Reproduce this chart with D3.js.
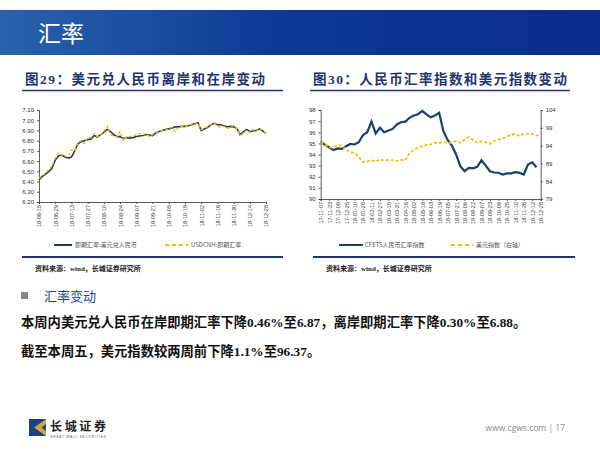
<!DOCTYPE html>
<html>
<head>
<meta charset="utf-8">
<script src="https://cdn.jsdelivr.net/npm/d3@7"></script>
<style>
  body { margin: 0; background: #fff; }
  svg { display: block; }
  .axis text { font-family: "Liberation Sans", Arial, sans-serif; fill: #333; }
  .axis path, .axis line { stroke: #333; stroke-width: 0.8; }
</style>
</head>
<body>
<div id="slide"></div>
<script>
// data

// fig 29: 18-06-15 .. 18-12-28, one value every 2 trading days
var leftTicks = ["18-06-15", "18-06-29", "18-07-13", "18-07-27", "18-08-10", "18-08-24", "18-09-07",
  "18-09-21", "18-10-05", "18-10-19", "18-11-02", "18-11-16", "18-11-30", "18-12-14", "18-12-28"];
var onshore = [6.415, 6.45, 6.47, 6.50, 6.53, 6.61, 6.65, 6.66, 6.64, 6.63,
  6.64, 6.70, 6.77, 6.79, 6.80, 6.81, 6.815, 6.85, 6.835, 6.86,
  6.88, 6.91, 6.89, 6.86, 6.84, 6.84, 6.82, 6.83, 6.825, 6.83,
  6.84, 6.845, 6.85, 6.86, 6.855, 6.85, 6.875, 6.89, 6.90, 6.91,
  6.915, 6.925, 6.935, 6.935, 6.94, 6.94, 6.945, 6.955, 6.965, 6.975,
  6.90, 6.915, 6.93, 6.955, 6.97, 6.955, 6.955, 6.945, 6.935, 6.94,
  6.935, 6.92, 6.86, 6.885, 6.91, 6.89, 6.895, 6.90, 6.915, 6.895, 6.87];
var offshore = [6.43, 6.46, 6.48, 6.52, 6.55, 6.63, 6.68, 6.66, 6.65, 6.64,
  6.71, 6.70, 6.78, 6.80, 6.77, 6.83, 6.83, 6.87, 6.84, 6.86,
  6.89, 6.94, 6.86, 6.84, 6.84, 6.89, 6.80, 6.84, 6.84, 6.85,
  6.86, 6.87, 6.86, 6.87, 6.84, 6.86, 6.88, 6.89, 6.90, 6.90,
  6.92, 6.93, 6.89, 6.93, 6.94, 6.93, 6.95, 6.96, 6.96, 6.97,
  6.91, 6.92, 6.94, 6.96, 6.97, 6.94, 6.93, 6.94, 6.92, 6.93,
  6.95, 6.92, 6.85, 6.87, 6.90, 6.88, 6.91, 6.89, 6.92, 6.90, 6.87];

// fig 30: 17-11-07 .. 18-12-28, one value every 8 days
var rightTicks = ["17-11-07", "17-11-23", "17-12-09", "17-12-25", "18-01-10", "18-01-26", "18-02-11",
  "18-02-27", "18-03-15", "18-03-31", "18-04-16", "18-05-02", "18-05-18", "18-06-03", "18-06-19",
  "18-07-05", "18-07-21", "18-08-06", "18-08-22", "18-09-07", "18-09-23", "18-10-09", "18-10-25",
  "18-11-10", "18-11-26", "18-12-12", "18-12-28"];
var cfets = [95.15, 94.87, 94.65, 94.4, 94.55, 94.5, 94.75, 94.95, 94.9, 95.1,
  95.75, 96.0, 96.95, 95.9, 96.4, 96.0, 96.15, 96.3, 96.7, 96.9,
  96.95, 97.3, 97.5, 97.62, 97.92, 97.6, 97.35, 97.5, 97.75, 96.1,
  95.3, 94.8, 94.0, 92.95, 92.5, 92.8, 92.76, 92.9, 93.5, 93.0,
  92.5, 92.38, 92.36, 92.2, 92.3, 92.3, 92.42, 92.35, 92.2, 93.1,
  93.3, 92.85, null];
var dxy = [95.0, 94.3, 93.6, 93.4, 94.2, 94.0, 92.9, 92.1, 92.0, 90.8,
  89.4, 89.5, 89.9, 89.5, 90.1, 89.8, 90.0, 89.9, 89.7, 89.95,
  89.9, 91.9, 92.8, 93.4, 93.8, 94.2, 94.3, 94.8, 94.7, 95.0,
  94.8, 94.8, 95.3, 94.8, 95.7, 96.4, 95.6, 94.8, 95.2, 94.9,
  94.45, 95.3, 95.65, 96.0, 96.5, 97.1, 97.2, 96.7, 97.25, 97.3,
  97.3, 96.8, 97.1];

var navy = "#1b3f6e";
var gold = "#f5c000";
var serif = "'Liberation Serif', 'Noto Sans CJK SC', serif";
var cjk = "'Noto Sans CJK SC', sans-serif";

var svg = d3.select("#slide").append("svg")
  .attr("width", 600)
  .attr("height", 450);

// header band
var grad = svg.append("defs").append("linearGradient")
  .attr("id", "band").attr("x1", "0").attr("x2", "1");
grad.append("stop").attr("offset", "0").attr("stop-color", "#2a62ac");
grad.append("stop").attr("offset", "0.45").attr("stop-color", "#0d3a96");
grad.append("stop").attr("offset", "1").attr("stop-color", "#0a2c8c");

svg.append("rect")
  .attr("x", 0).attr("y", 10)
  .attr("width", 600).attr("height", 45)
  .attr("fill", "url(#band)");

svg.append("text")
  .attr("x", 38).attr("y", 42)
  .attr("fill", "#fff")
  .style("font-family", cjk)
  .style("font-size", "23px")
  .text("汇率");

// figure titles + rules
function panelTitle(x, x2, txt, len) {
  svg.append("text")
    .attr("x", x).attr("y", 84)
    .attr("fill", "#1f3470")
    .attr("textLength", len)
    .attr("lengthAdjust", "spacing")
    .style("font-family", serif)
    .style("font-weight", "bold")
    .style("font-size", "13.5px")
    .text(txt);
  svg.append("line")
    .attr("x1", x - 3).attr("x2", x2)
    .attr("y1", 90.5).attr("y2", 90.5)
    .attr("stroke", "#1f3470").attr("stroke-width", 1.6);
}
panelTitle(25, 283, "图29：美元兑人民币离岸和在岸变动", 240);
panelTitle(313, 570, "图30：人民币汇率指数和美元指数变动", 254);

function sourceNote(x, x1, x2) {
  svg.append("line")
    .attr("x1", x1).attr("x2", x2)
    .attr("y1", 257).attr("y2", 257)
    .attr("stroke", "#1f3470").attr("stroke-width", 1.8);
  svg.append("text")
    .attr("x", x).attr("y", 270.5)
    .attr("fill", "#222")
    .style("font-family", serif)
    .style("font-weight", "bold")
    .style("font-size", "7px")
    .text("资料来源：wind，长城证券研究所");
}
sourceNote(35, 22, 283);
sourceNote(326, 313, 575);

// ---------- fig 29 ----------
var xL = d3.scalePoint().domain(d3.range(onshore.length)).range([39, 266]);
var yL = d3.scaleLinear().domain([6.2, 7.1]).range([202, 110]);

var gLeftY = svg.append("g").attr("class", "axis")
  .attr("transform", "translate(39,0)")
  .call(d3.axisLeft(yL).tickValues(d3.range(6.2, 7.15, 0.1)).tickFormat(d3.format(".2f")).tickSize(2));
gLeftY.selectAll("text").style("font-size", "6px");

var gLeftX = svg.append("g").attr("class", "axis")
  .attr("transform", "translate(0,202)")
  .call(d3.axisBottom(xL)
    .tickValues(d3.range(0, onshore.length, 5))
    .tickFormat(function(d) { return leftTicks[d / 5]; })
    .tickSize(2));
gLeftX.selectAll("text")
  .style("font-size", "5.5px")
  .attr("text-anchor", "end")
  .attr("transform", "rotate(-90)")
  .attr("x", -3).attr("y", 0).attr("dy", "0.35em");

var lineL = d3.line()
  .x(function(d, i) { return xL(i); })
  .y(function(d) { return yL(d); });

svg.append("path").datum(onshore)
  .attr("d", lineL)
  .attr("fill", "none")
  .attr("stroke", navy).attr("stroke-width", 1.6);

svg.append("path").datum(offshore)
  .attr("d", lineL)
  .attr("fill", "none")
  .attr("stroke", gold).attr("stroke-width", 1.4)
  .attr("stroke-dasharray", "3,2");

// legend
svg.append("line").attr("x1", 54).attr("x2", 72).attr("y1", 245).attr("y2", 245)
  .attr("stroke", navy).attr("stroke-width", 2);
svg.append("text").attr("x", 75).attr("y", 247.2)
  .attr("fill", "#555").style("font-family", cjk).style("font-size", "6px")
  .text("即期汇率:美元兑人民币");
svg.append("line").attr("x1", 165).attr("x2", 188).attr("y1", 245).attr("y2", 245)
  .attr("stroke", gold).attr("stroke-width", 2).attr("stroke-dasharray", "4,3");
svg.append("text").attr("x", 191).attr("y", 247.2)
  .attr("fill", "#555").style("font-family", cjk).style("font-size", "6px")
  .text("USDCNH:即期汇率");

// ---------- fig 30 ----------
var xR = d3.scalePoint().domain(d3.range(dxy.length)).range([320.7, 540.7]);
var yR1 = d3.scaleLinear().domain([90, 98]).range([199, 110]);
var yR2 = d3.scaleLinear().domain([79, 104]).range([199, 110]);

var gR1 = svg.append("g").attr("class", "axis")
  .attr("transform", "translate(320.7,0)")
  .call(d3.axisLeft(yR1).ticks(8).tickSize(2));
gR1.selectAll("text").style("font-size", "6px");

var gR2 = svg.append("g").attr("class", "axis")
  .attr("transform", "translate(540.7,0)")
  .call(d3.axisRight(yR2).tickValues([79, 84, 89, 94, 99, 104]).tickSize(2));
gR2.selectAll("text").style("font-size", "6px");

var gRX = svg.append("g").attr("class", "axis")
  .attr("transform", "translate(0,199)")
  .call(d3.axisBottom(xR)
    .tickValues(d3.range(0, dxy.length, 2))
    .tickFormat(function(d) { return rightTicks[d / 2]; })
    .tickSize(2));
gRX.selectAll("text")
  .style("font-size", "5.5px")
  .attr("text-anchor", "end")
  .attr("transform", "rotate(-90)")
  .attr("x", -3).attr("y", 0).attr("dy", "0.35em");

svg.append("path").datum(cfets)
  .attr("d", d3.line()
    .defined(function(d) { return d != null; })
    .x(function(d, i) { return xR(i); })
    .y(function(d) { return yR1(d); }))
  .attr("fill", "none")
  .attr("stroke", navy).attr("stroke-width", 2.2);

svg.append("path").datum(dxy)
  .attr("d", d3.line()
    .x(function(d, i) { return xR(i); })
    .y(function(d) { return yR2(d); }))
  .attr("fill", "none")
  .attr("stroke", gold).attr("stroke-width", 1.8)
  .attr("stroke-dasharray", "3,2");

svg.append("line").attr("x1", 339).attr("x2", 363).attr("y1", 245).attr("y2", 245)
  .attr("stroke", navy).attr("stroke-width", 2);
svg.append("text").attr("x", 365).attr("y", 247.2)
  .attr("fill", "#555").style("font-family", cjk).style("font-size", "6px")
  .text("CFETS人民币汇率指数");
svg.append("line").attr("x1", 451).attr("x2", 473).attr("y1", 245).attr("y2", 245)
  .attr("stroke", gold).attr("stroke-width", 2).attr("stroke-dasharray", "4,3");
svg.append("text").attr("x", 476).attr("y", 247.2)
  .attr("fill", "#555").style("font-family", cjk).style("font-size", "6px")
  .text("美元指数（右轴）");

// ---------- commentary ----------
svg.append("rect").attr("x", 21).attr("y", 292).attr("width", 7).attr("height", 7)
  .attr("fill", "#888");
svg.append("text").attr("x", 44).attr("y", 301)
  .attr("fill", "#1f3f9a")
  .style("font-family", cjk).style("font-size", "13px")
  .text("汇率变动");

var body = [
  "本周内美元兑人民币在岸即期汇率下降0.46%至6.87，离岸即期汇率下降0.30%至6.88。",
  "截至本周五，美元指数较两周前下降1.1%至96.37。"
];
svg.selectAll(".body").data(body).enter().append("text")
  .attr("class", "body")
  .attr("x", 21)
  .attr("y", function(d, i) { return 327 + i * 29; })
  .attr("fill", "#111")
  .style("font-family", serif)
  .style("font-weight", "bold")
  .style("font-size", "13.3px")
  .text(function(d) { return d; });

// ---------- footer ----------
svg.append("rect").attr("x", 29).attr("y", 419).attr("width", 17).attr("height", 17)
  .attr("fill", "#1d3f86");
svg.append("polygon")
  .attr("points", "46,419 34,427.5 46,436 46,431 41.5,427.5 46,424")
  .attr("fill", "#c9a640");
svg.append("text").attr("x", 50).attr("y", 431)
  .attr("fill", "#222")
  .style("font-family", cjk).style("font-weight", "bold").style("font-size", "12px")
  .attr("textLength", 56).attr("lengthAdjust", "spacing")
  .text("长城证券");
svg.append("text").attr("x", 50).attr("y", 438)
  .attr("fill", "#555")
  .style("font-family", "'Liberation Sans', sans-serif").style("font-size", "3.2px")
  .attr("textLength", 56).attr("lengthAdjust", "spacing")
  .text("GREAT WALL SECURITIES");

svg.append("text").attr("x", 565).attr("y", 431)
  .attr("text-anchor", "end")
  .attr("fill", "#8a8a8a")
  .style("font-family", "'Open Sans', 'Liberation Sans', sans-serif").style("font-size", "8.5px")
  .text("www.cgws.com  |  17");
</script>
</body>
</html>
